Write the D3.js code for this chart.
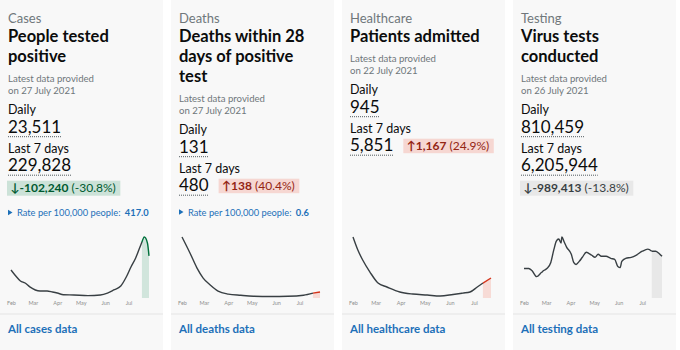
<!DOCTYPE html>
<html>
<head>
<meta charset="utf-8">
<script src="https://cdn.jsdelivr.net/npm/d3@7"></script>
<style>
body { margin: 0; background: #fff; }
svg text { font-family: Lato, "Noto Sans", sans-serif; }
</style>
</head>
<body>
<svg id="chart" width="680" height="350"></svg>
<script>
// card texts
let categories = ["Cases", "Deaths", "Healthcare", "Testing"];
let titles = [["People tested", "positive"], ["Deaths within 28", "days of positive", "test"], ["Patients admitted"], ["Virus tests", "conducted"]];
let latestDates = ["on 27 July 2021", "on 27 July 2021", "on 22 July 2021", "on 26 July 2021"];
let dailyValues = ["23,511", "131", "945", "810,459"];
let weekValues = ["229,828", "480", "5,851", "6,205,944"];
let changeValues = ["\u2193-102,240", "\u2191138", "\u21911,167", "\u2193-989,413"];
let changePercents = ["(-30.8%)", "(40.4%)", "(24.9%)", "(-13.8%)"];
let changeTrend = ["good", "bad", "bad", "neutral"];
let rateValues = ["417.0", "0.6", null, null];
let linkLabels = ["All cases data", "All deaths data", "All healthcare data", "All testing data"];

// sparkline series (2021 dates, 7 day averages)
let monthTicks = ["02-01", "03-01", "04-01", "05-01", "06-01", "07-01"];
let casesDates = ["02-01","02-06","02-13","02-19","02-25","03-04","03-10","03-19","03-26","04-01","04-09","04-22","05-10","05-26","06-04","06-12","06-21","06-28","07-04","07-10","07-14","07-18","07-21","07-25","07-27"];
let casesValues = [22000,18100,13400,11800,8700,6300,5500,5500,4700,3900,2600,2400,1900,2400,3900,6300,9400,16500,24400,31500,37800,44000,48000,43300,33100];
let deathsDates = ["02-01","02-11","02-20","02-28","03-09","03-19","04-01","04-17","05-03","05-25","06-16","07-06","07-18","07-27"];
let deathsValues = [1010,750,500,330,215,115,65,45,30,25,28,45,80,100];
let healthDates = ["02-01","02-07","02-13","02-22","03-04","03-15","03-31","04-16","05-04","05-20","06-05","06-17","06-26","07-05","07-12","07-22"];
let healthValues = [3100,2440,1930,1320,760,560,305,200,150,100,180,250,305,560,760,1015];
let testDates = ["02-01","02-07","02-11","02-17","02-23","02-26","03-02","03-07","03-11","03-14","03-17","03-20","03-21","03-24","03-27","04-02","04-05","04-08","04-12","04-16","04-21","04-24","04-28","05-02","05-06","05-10","05-16","05-22","05-27","05-31","06-03","06-05","06-10","06-17","06-23","07-01","07-08","07-13","07-18","07-22","07-26"];
let testValues = [627,627,584,454,541,584,627,757,1039,1212,1255,1168,1298,1190,1082,930,757,714,779,866,974,952,909,866,930,887,887,844,822,671,649,779,844,866,909,995,1039,995,995,952,887];
let highlightStart = ["07-18", "07-18", "07-12", "07-13"];

let seriesDates = [casesDates, deathsDates, healthDates, testDates];
let seriesValues = [casesValues, deathsValues, healthValues, testValues];

let svg = d3.select("#chart");
let cardW = 163;
let cardX = [0, 171, 342, 513];
let parse = d3.timeParse("%Y-%m-%d");
function day(s) { return parse("2021-" + s); }

let trendStyle = {
    good: { bg: "#cce2d8", text: "#005a30", line: "#00703c" },
    bad: { bg: "#f6d7d2", text: "#942514", line: "#d4351c" },
    neutral: { bg: "#e8e8e8", text: "#383f43", line: "#383f43" }
};
let grey = "#6f777b";
let black = "#0b0c0c";
let blue = "#1d70b8";

categories.forEach(function (cat, i) {
    let g = svg.append("g").attr("transform", "translate(" + cardX[i] + ",0)");
    let st = trendStyle[changeTrend[i]];

    g.append("rect").attr("width", cardW).attr("height", 350).attr("fill", "#f8f8f8");

    g.append("text").attr("x", 8).attr("y", 22.5).attr("font-size", 13).attr("fill", grey).text(cat);

    titles[i].forEach(function (t, k) {
        g.append("text").attr("x", 8).attr("y", 41.7 + 20 * k)
            .attr("font-size", 16.5).attr("font-weight", "bold").attr("fill", black).text(t);
    });
    let yy = 41.7 + 20 * (titles[i].length - 1);

    g.append("text").attr("x", 8).attr("y", yy + 20.5).attr("font-size", 9.6).attr("fill", grey).text("Latest data provided");
    g.append("text").attr("x", 8).attr("y", yy + 32.5).attr("font-size", 9.6).attr("fill", grey).text(latestDates[i]);

    g.append("text").attr("x", 8).attr("y", yy + 52).attr("font-size", 12.5).attr("fill", black).text("Daily");
    let dv = g.append("text").attr("x", 8).attr("y", yy + 71.5).attr("font-size", 17).attr("fill", black).text(dailyValues[i]);
    let dw = dv.node().getComputedTextLength();
    g.append("line").attr("x1", 8).attr("x2", 8 + dw).attr("y1", yy + 75).attr("y2", yy + 75)
        .attr("stroke", "#505a5f").attr("stroke-dasharray", "1,1");

    g.append("text").attr("x", 8).attr("y", yy + 91).attr("font-size", 12.5).attr("fill", black).text("Last 7 days");
    let wy = yy + 109.5;
    let wv = g.append("text").attr("x", 8).attr("y", wy).attr("font-size", 17).attr("fill", black).text(weekValues[i]);
    let ww = wv.node().getComputedTextLength();
    g.append("line").attr("x1", 8).attr("x2", 8 + ww).attr("y1", wy + 4).attr("y2", wy + 4)
        .attr("stroke", "#505a5f").attr("stroke-dasharray", "1,1");

    // change box, inline when it fits
    let ct = g.append("text").attr("font-size", 12).attr("fill", st.text);
    ct.append("tspan").attr("font-weight", "bold").text(changeValues[i]);
    ct.append("tspan").text(" " + changePercents[i]);
    let cw = ct.node().getComputedTextLength();
    let bx, btop, bh;
    if (8 + ww + 10 + cw + 6 <= cardW - 5) {
        bx = 8 + ww + 10; btop = wy - 12.5; bh = 14.5;
    } else {
        bx = 7; btop = wy + 9.5; bh = 15;
    }
    g.insert("rect", "text:last-child").attr("x", bx).attr("y", btop).attr("width", cw + 8).attr("height", bh).attr("fill", st.bg);
    ct.attr("x", bx + 3.5).attr("y", btop + bh - 3.5);

    if (rateValues[i]) {
        let ry = Math.max(btop + bh, wy + 4) + 20.5;
        g.append("path").attr("d", "M8," + (ry - 6.5) + "L12.5," + (ry - 3.8) + "L8," + (ry - 1) + "Z").attr("fill", blue);
        let rt = g.append("text").attr("x", 17).attr("y", ry).attr("font-size", 9.3).attr("fill", blue);
        rt.append("tspan").text("Rate per 100,000 people: ");
        rt.append("tspan").attr("font-weight", "bold").attr("dx", 2).text(rateValues[i]);
    }

    // sparkline
    let data = seriesDates[i].map(function (d, k) { return { date: day(d), value: seriesValues[i][k] }; });
    let x = d3.scaleTime().domain([day("02-01"), data[data.length - 1].date]).range([11, 149]);
    let y = d3.scaleLinear().domain([0, d3.max(data, function (d) { return d.value; })]).range([298, 237]);
    let hs = day(highlightStart[i]);
    let before = data.filter(function (d) { return d.date <= hs; });
    let after = data.filter(function (d) { return d.date >= hs; });

    let area = d3.area().x(function (d) { return x(d.date); }).y0(298).y1(function (d) { return y(d.value); }).curve(d3.curveMonotoneX);
    let line = d3.line().x(function (d) { return x(d.date); }).y(function (d) { return y(d.value); }).curve(d3.curveMonotoneX);

    g.append("path").datum(after).attr("d", area).attr("fill", st.bg).attr("opacity", changeTrend[i] == "neutral" ? 1 : 0.9);
    g.append("path").datum(before).attr("d", line).attr("fill", "none").attr("stroke", "#383f43").attr("stroke-width", 1.4);
    g.append("path").datum(after).attr("d", line).attr("fill", "none").attr("stroke", st.line).attr("stroke-width", 1.4);

    let xAxis = d3.axisBottom(x).tickValues(monthTicks.map(day)).tickFormat(d3.timeFormat("%b")).tickSize(0).tickPadding(0);
    let ax = g.append("g").attr("transform", "translate(0,301)").call(xAxis);
    ax.select(".domain").remove();
    ax.selectAll("text").attr("font-size", 5.5).attr("fill", "#8f8f8f").attr("font-family", "Lato, sans-serif");

    g.append("line").attr("x1", 0).attr("x2", cardW).attr("y1", 314).attr("y2", 314).attr("stroke", "#ebebeb").attr("stroke-width", 1.5);

    g.append("text").attr("x", 8).attr("y", 333).attr("font-size", 11.5).attr("font-weight", "bold").attr("fill", blue).text(linkLabels[i]);
});
</script>
</body>
</html>
